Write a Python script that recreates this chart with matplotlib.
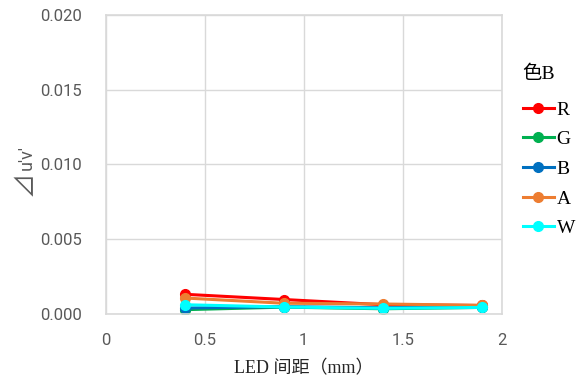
import matplotlib
matplotlib.use("Agg")
import matplotlib.pyplot as plt

x_vals = [0.4, 0.9, 1.4, 1.9]
series_names = ["R", "G", "B", "A", "W"]
R_vals = [0.00130, 0.00095, 0.00060, 0.00055]
G_vals = [0.00027, 0.00044, 0.00033, 0.00042]
B_vals = [0.00038, 0.00047, 0.00040, 0.00047]
A_vals = [0.00105, 0.00070, 0.00065, 0.00056]
W_vals = [0.00060, 0.00045, 0.00036, 0.00042]
colors = ["#ff0000", "#00b050", "#0070c0", "#ed7d31", "#00ffff"]
xticks = [0, 0.5, 1, 1.5, 2]
xticklabels = ["0", "0.5", "1", "1.5", "2"]
yticks = [0, 0.005, 0.010, 0.015, 0.020]
yticklabels = ["0.000", "0.005", "0.010", "0.015", "0.020"]

fig = plt.figure(figsize=(5.88, 3.85), dpi=100)
ax = fig.add_axes([105.7/588, 1-313.7/385, (501.7-105.7)/588, (313.7-15)/385])

data = [R_vals, G_vals, B_vals, A_vals, W_vals]
for name, vals, c in zip(series_names, data, colors):
    ax.plot(x_vals, vals, color=c, lw=2.2, marker="o", ms=7, label=name)

ax.set_xlim(0, 2)
ax.set_ylim(0, 0.020)
ax.set_xticks(xticks)
ax.set_xticklabels(xticklabels)
ax.set_yticks(yticks)
ax.set_yticklabels(yticklabels)
ax.grid(True, color="#d9d9d9", lw=1)
ax.set_axisbelow(True)
for s in ax.spines.values():
    s.set_color("#d9d9d9")
    s.set_linewidth(1.2)
ax.tick_params(length=0, labelsize=12, colors="#595959")
ax.tick_params(axis="y", pad=17)
ax.tick_params(axis="x", pad=14)
for lab in ax.get_xticklabels() + ax.get_yticklabels():
    lab.set_family("Roboto")
    lab.set_color("#595959")

fig.text(304/588, 1-369/385, "LED 间距（mm）", ha="center", va="center",
         family=["Liberation Serif", "Noto Sans CJK JP"], fontsize=13, color="#262626")
# y-axis title "⊿u'v'" drawn in two pieces so the triangle matches the reference size
fig.text(25/588, 1-183/385, "⊿", ha="center", va="center", rotation=90,
         family=["Noto Sans CJK JP", "DejaVu Sans"], fontsize=18, color="#595959")
fig.text(27/588, 1-157/385, "u'v'", ha="center", va="center", rotation=90,
         family=["Roboto", "DejaVu Sans"], fontsize=13, color="#595959")

leg = ax.legend(loc="upper left", bbox_to_anchor=(509/588, 1-52/385),
                bbox_transform=fig.transFigure, frameon=False, title="色B",
                prop={"family": ["Liberation Serif", "Noto Sans CJK JP"], "size": 14},
                handlelength=1.6, labelspacing=0.62, handletextpad=0.15,
                borderpad=0.2)
leg.get_title().set_family(["Liberation Serif", "Noto Sans CJK JP"])
leg.get_title().set_fontsize(14)
leg._legend_box.align = "left"
leg._legend_box.sep = 13

fig.savefig("out.png", dpi=100)
